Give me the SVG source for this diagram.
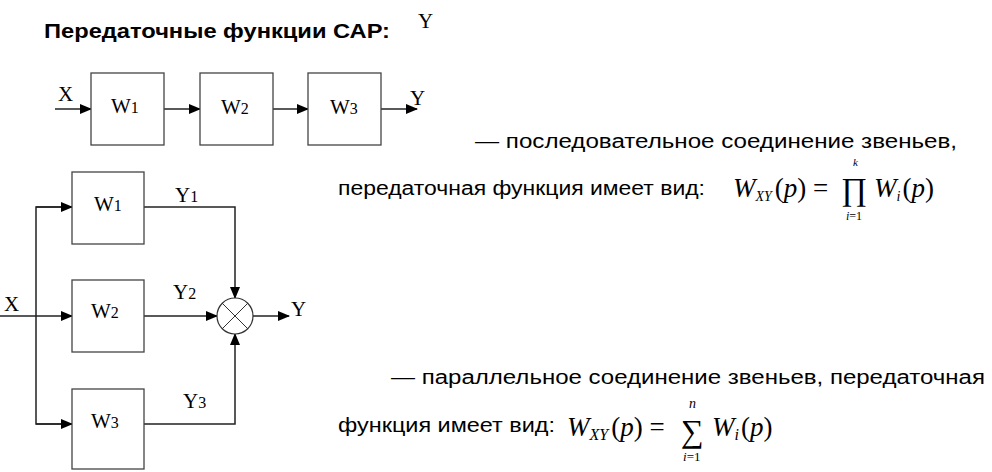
<svg xmlns="http://www.w3.org/2000/svg" width="992" height="472" viewBox="0 0 992 472">
<defs>
<marker id="a" markerWidth="12" markerHeight="10" refX="11" refY="5" orient="auto" markerUnits="userSpaceOnUse"><path d="M0,0 L12,5 L0,10 Z" fill="#000"/></marker>
</defs>
<style>
.b{fill:#fff;stroke:#444;stroke-width:1.3}
.l{fill:none;stroke:#222;stroke-width:1.5}
.s{font-family:"Liberation Serif",serif;font-size:21px;fill:#000}
.t{font-family:"Liberation Sans",sans-serif;font-size:20px;fill:#000}
.m{font-family:"Liberation Serif",serif;font-style:italic;fill:#000}
.r{font-family:"Liberation Serif",serif;fill:#000}
</style>
<rect width="992" height="472" fill="#fff"/>
<text x="44" y="38" class="t" font-weight="bold" textLength="346" lengthAdjust="spacingAndGlyphs">Передаточные функции САР:</text>
<text x="418" y="28" class="s">Y</text>
<g id="connectors">
<line x1="55" y1="109" x2="91" y2="109" class="l" marker-end="url(#a)"/>
<line x1="164" y1="109" x2="200" y2="109" class="l" marker-end="url(#a)"/>
<line x1="273" y1="109" x2="308" y2="109" class="l" marker-end="url(#a)"/>
<line x1="381" y1="109" x2="417" y2="109" class="l" marker-end="url(#a)"/>
<line x1="0" y1="316" x2="72" y2="316" class="l" marker-end="url(#a)"/>
<polyline points="72,207 36,207 36,424 72,424" class="l"/>
<line x1="36" y1="207" x2="72" y2="207" class="l" marker-end="url(#a)"/>
<line x1="36" y1="424" x2="72" y2="424" class="l" marker-end="url(#a)"/>
<polyline points="144,207 235,207 235,298" class="l" marker-end="url(#a)"/>
<line x1="144" y1="316" x2="217" y2="316" class="l" marker-end="url(#a)"/>
<polyline points="144,424 235,424 235,334" class="l" marker-end="url(#a)"/>
<line x1="253" y1="316" x2="289" y2="316" class="l" marker-end="url(#a)"/>
</g>
<g id="s1"><rect x="91" y="73" width="73" height="72" class="b"/><text x="111" y="113" class="s">W<tspan font-size="16">1</tspan></text></g>
<g id="s2"><rect x="200" y="73" width="73" height="72" class="b"/><text x="221" y="114" class="s">W<tspan font-size="16">2</tspan></text></g>
<g id="s3"><rect x="308" y="73" width="73" height="72" class="b"/><text x="330" y="114" class="s">W<tspan font-size="16">3</tspan></text></g>
<text x="58" y="101" class="s">X</text>
<text x="410" y="105" class="s">Y</text>
<g id="p1"><rect x="72" y="172" width="72" height="72" class="b"/><text x="94" y="211" class="s">W<tspan font-size="16">1</tspan></text></g>
<g id="p2"><rect x="72" y="280" width="72" height="72" class="b"/><text x="91" y="318" class="s">W<tspan font-size="16">2</tspan></text></g>
<g id="p3"><rect x="72" y="389" width="72" height="80" class="b"/><text x="91" y="428" class="s">W<tspan font-size="16">3</tspan></text></g>
<g id="sum"><circle cx="235" cy="316" r="18" fill="#fff" stroke="#333" stroke-width="1.2"/><line x1="222" y1="303" x2="248" y2="329" stroke="#333"/><line x1="248" y1="303" x2="222" y2="329" stroke="#333"/></g>
<text x="175" y="202" class="s">Y<tspan font-size="16">1</tspan></text>
<text x="173" y="299" class="s">Y<tspan font-size="16">2</tspan></text>
<text x="183" y="408" class="s">Y<tspan font-size="16">3</tspan></text>
<text x="4" y="311" class="s">X</text>
<text x="291" y="316" class="s">Y</text>
<text x="475" y="148" class="t" textLength="482" lengthAdjust="spacingAndGlyphs">— последовательное соединение звеньев,</text>
<text x="338" y="195" class="t" textLength="367" lengthAdjust="spacingAndGlyphs">передаточная функция имеет вид:</text>
<text x="733" y="197" class="m" font-size="27">W<tspan font-size="14" dy="4">XY</tspan><tspan class="r" font-style="normal" dy="-4" dx="3">(</tspan>p<tspan font-style="normal">) = </tspan></text>
<text x="841" y="200" class="r" font-size="32">∏</text>
<text x="853" y="166" class="m" font-size="11">k</text>
<text x="846" y="220" class="m" font-size="12">i<tspan font-style="normal">=1</tspan></text>
<text x="874" y="197" class="m" font-size="27">W<tspan font-size="14" dy="4">i</tspan><tspan font-style="normal" dy="-4" dx="2">(</tspan>p<tspan font-style="normal">)</tspan></text>
<text x="391" y="384" class="t" textLength="594" lengthAdjust="spacingAndGlyphs">— параллельное соединение звеньев, передаточная</text>
<text x="338" y="432" class="t" textLength="217" lengthAdjust="spacingAndGlyphs">функция имеет вид:</text>
<text x="567" y="436" class="m" font-size="27">W<tspan font-size="16" dy="4">XY</tspan><tspan font-style="normal" dy="-4" dx="3">(</tspan>p<tspan font-style="normal">) = </tspan></text>
<text x="681" y="442" class="r" font-size="32">∑</text>
<text x="689" y="408" class="m" font-size="14">n</text>
<text x="683" y="461" class="m" font-size="13">i<tspan font-style="normal">=1</tspan></text>
<text x="712" y="436" class="m" font-size="27">W<tspan font-size="16" dy="4">i</tspan><tspan font-style="normal" dy="-4" dx="2">(</tspan>p<tspan font-style="normal">)</tspan></text>
</svg>
